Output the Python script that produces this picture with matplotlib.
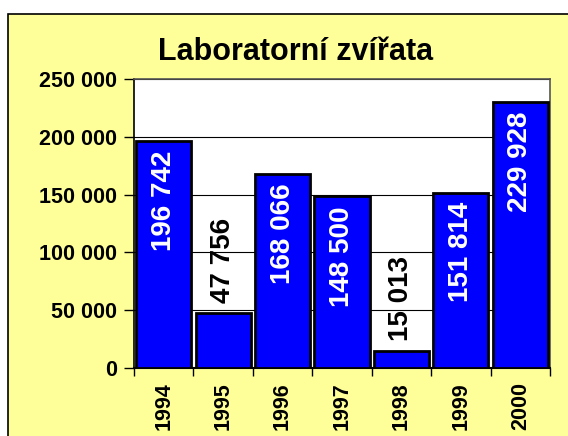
import matplotlib
matplotlib.use("Agg")
import matplotlib.pyplot as plt
from matplotlib.patches import Rectangle
from matplotlib.ticker import FuncFormatter, FixedLocator

years = ["1994", "1995", "1996", "1997", "1998", "1999", "2000"]
counts = [196742, 47756, 168066, 148500, 15013, 151814, 229928]
value_labels = ["196 742", "47 756", "168 066", "148 500", "15 013", "151 814", "229 928"]

plt.rcParams["font.family"] = ["Liberation Sans", "DejaVu Sans"]
plt.rcParams["font.weight"] = "bold"

fig = plt.figure(figsize=(5.68, 4.36), dpi=100)
fig.patch.set_facecolor("white")

# yellow chart area with border (runs off the right and bottom edges)
bg = Rectangle((8 / 568, -0.05), 1.0, (436 - 14) / 436 + 0.05, transform=fig.transFigure,
               facecolor="#FFFF99", edgecolor="black", linewidth=1.2, zorder=-5)
fig.patches.append(bg)

ax = fig.add_axes([134 / 568, 68 / 436, (550 - 134) / 568, (368 - 79) / 436])
ax.set_zorder(2)
ax.set_facecolor("white")

x = range(len(years))
bars = ax.bar(x, counts, width=0.93, color="#0000FF", edgecolor="black", linewidth=2, zorder=3)

ax.set_ylim(0, 250000)
ax.set_xlim(-0.5, len(years) - 0.5)
ax.set_yticks(range(0, 250001, 50000))
ax.yaxis.set_major_formatter(FuncFormatter(lambda v, p: f"{int(v):,}".replace(",", " ")))
ax.grid(axis="y", color="black", linewidth=0.8, zorder=1)
ax.set_axisbelow(True)

# labels centred on the bars, tick marks between categories
ax.set_xticks(list(x))
ax.set_xticklabels(years, rotation=90, fontsize=15.5, fontweight="bold")
ax.xaxis.set_minor_locator(FixedLocator([i - 0.5 for i in range(len(years) + 1)]))
ax.tick_params(axis="x", which="major", length=0, pad=10)
ax.tick_params(axis="x", which="minor", length=6, width=1)
ax.tick_params(axis="y", labelsize=15.5, length=7, width=1, pad=5)
for lbl in ax.get_yticklabels():
    lbl.set_fontweight("bold")

for s in ["top", "right"]:
    ax.spines[s].set_color("#555555")
    ax.spines[s].set_linewidth(1.2)
ax.spines["left"].set_linewidth(1.2)
ax.spines["bottom"].set_linewidth(1.5)

for xi, val, lab in zip(x, counts, value_labels):
    if val > 100000:
        ax.annotate(lab, (xi, val), xytext=(0, -7), textcoords="offset points",
                    rotation=90, ha="center", va="top", color="white",
                    fontsize=20, fontweight="bold", zorder=4)
    else:
        ax.annotate(lab, (xi, val), xytext=(0, 7), textcoords="offset points",
                    rotation=90, ha="center", va="bottom", color="black",
                    fontsize=20, fontweight="bold", zorder=4)

fig.text(296 / 568, 1 - 52 / 436, "Laboratorní zvířata", ha="center", va="center",
         fontsize=22, fontweight="bold")

fig.savefig("out.png", dpi=100)
